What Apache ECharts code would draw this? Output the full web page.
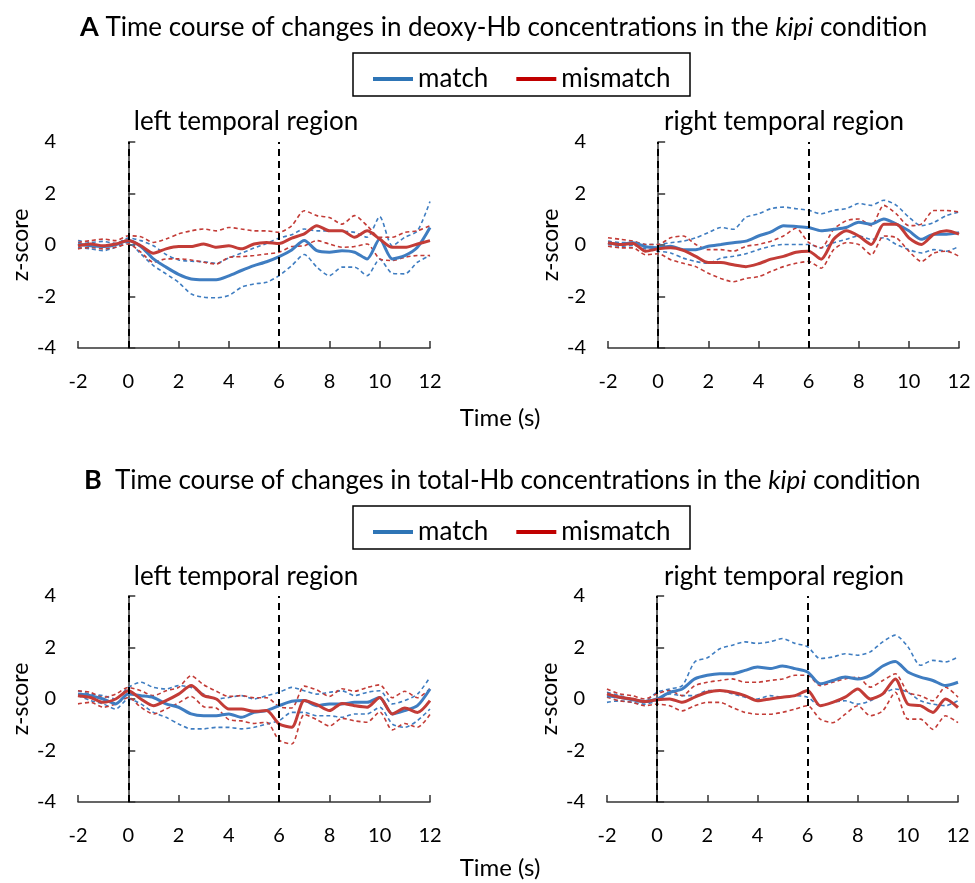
<!DOCTYPE html>
<html>
<head>
<meta charset="utf-8">
<script src="https://cdn.jsdelivr.net/npm/echarts@6/dist/echarts.min.js"></script>
<style>
html,body{margin:0;padding:0;background:#fff;}
#chart{width:975px;height:883px;}
</style>
</head>
<body>
<div id="chart"></div>
<script>
// ---------- data ----------
const times = [-2,-1.5,-1,-0.5,0,0.5,1,1.5,2,2.5,3,3.5,4,4.5,5,5.5,6,6.5,7,7.5,8,8.5,9,9.5,10,10.5,11,11.5,12];
const xTicks = [-2,0,2,4,6,8,10,12];
const yTicks = [-4,-2,0,2,4];
const stimulusMarks = [0, 6];

// A: deoxy-Hb, left temporal region
const aLeftMatch         = [0.04,-0.03,-0.06,0.01,0.17,-0.06,-0.54,-0.86,-1.14,-1.32,-1.35,-1.35,-1.2,-0.99,-0.8,-0.65,-0.45,-0.19,0.17,-0.22,-0.28,-0.22,-0.28,-0.54,0.23,-0.54,-0.41,-0.09,0.68];
const aLeftMatchUpper    = [0.17,0.10,0.14,0.06,0.27,0.17,-0.03,-0.37,-0.58,-0.63,-0.65,-0.71,-0.5,-0.32,-0.12,0.06,0.27,0.4,0.62,0.55,0.55,0.53,0.49,0.3,1.1,-0.03,0.3,0.55,1.69];
const aLeftMatchLower    = [-0.09,-0.15,-0.22,-0.09,0.1,-0.35,-0.8,-1.12,-1.45,-1.9,-2.03,-2.05,-1.96,-1.64,-1.51,-1.45,-1.19,-0.8,-0.37,-0.86,-1.19,-0.86,-0.86,-1.19,-0.55,-1.1,-1.12,-0.67,-0.41];
const aLeftMismatch      = [-0.03,0.04,-0.03,0.04,0.17,-0.03,-0.32,-0.15,-0.06,-0.06,0.04,-0.09,-0.03,-0.15,0.04,0.1,0.06,0.27,0.43,0.75,0.55,0.55,0.3,0.55,0.23,-0.09,-0.09,0.04,0.17];
const aLeftMismatchUpper = [0.1,0.17,0.23,0.17,0.36,0.32,0.1,0.23,0.43,0.55,0.62,0.55,0.68,0.62,0.55,0.55,0.49,0.75,1.33,1.14,1.07,0.81,1.14,0.75,0.3,0.3,0.49,0.55,0.75];
const aLeftMismatchLower = [-0.15,-0.09,-0.15,-0.09,0.04,-0.28,-0.67,-0.54,-0.54,-0.58,-0.67,-0.74,-0.48,-0.45,-0.41,-0.35,-0.28,-0.06,-0.03,0.17,0.04,-0.09,-0.06,0.04,-0.54,-0.6,-0.48,-0.41,-0.41];

// A: deoxy-Hb, right temporal region
const aRightMatch         = [0.09,0.02,0.09,-0.07,-0.11,-0.05,-0.18,-0.18,-0.05,0.02,0.09,0.15,0.35,0.51,0.75,0.72,0.68,0.55,0.61,0.68,0.88,0.81,1.01,0.81,0.55,0.22,0.42,0.42,0.48];
const aRightMatchUpper    = [0.15,0.09,0.11,0.02,0.02,0.09,0.15,0.28,0.48,0.68,0.61,1.08,1.21,1.41,1.47,1.41,1.35,1.21,1.35,1.41,1.61,1.54,1.74,1.54,1.08,0.75,0.88,1.14,1.28];
const aRightMatchLower    = [0.02,-0.05,-0.02,-0.15,-0.24,-0.31,-0.51,-0.64,-0.71,-0.51,-0.44,-0.34,-0.18,-0.05,0.02,0.02,0.02,-0.11,0.09,0.22,0.35,0.22,0.28,0.02,-0.18,-0.31,-0.18,-0.24,-0.05];
const aRightMismatch      = [0.09,0.02,0.06,-0.24,-0.15,-0.11,-0.21,-0.44,-0.68,-0.68,-0.77,-0.84,-0.73,-0.55,-0.44,-0.28,-0.24,-0.55,0.22,0.55,0.35,0.02,0.81,0.81,0.28,0.02,0.42,0.55,0.42];
const aRightMismatchUpper = [0.28,0.22,0.15,0.02,0.02,0.28,0.35,0.02,-0.18,-0.18,-0.24,-0.05,0.02,0.15,0.35,0.65,0.1,-0.11,0.61,0.94,1.01,0.75,1.54,1.21,0.75,0.81,1.34,1.34,1.28];
const aRightMismatchLower = [-0.05,-0.11,-0.11,-0.38,-0.34,-0.57,-0.71,-0.84,-1.1,-1.3,-1.43,-1.3,-1.23,-1.03,-0.84,-0.71,-0.64,-0.9,-0.18,0.09,0.02,-0.38,0.35,0.28,-0.24,-0.64,-0.31,-0.24,-0.44];

// B: total-Hb, left temporal region
const bLeftMatch         = [0.19,0.13,0,-0.19,0.19,0.13,0.06,-0.19,-0.32,-0.58,-0.65,-0.65,-0.58,-0.71,-0.52,-0.45,-0.26,-0.09,-0.06,-0.26,-0.19,-0.19,-0.13,-0.13,0.06,-0.58,-0.45,-0.26,0.39];
const bLeftMatchUpper    = [0.32,0.19,0.13,0,0.45,0.65,0.45,0.39,0.52,0.45,0.19,0,0.06,0.13,0,0.13,0.26,0.45,0.32,0.19,0.26,0.32,0.13,0.26,0.32,-0.19,-0.06,0.19,0.84];
const bLeftMatchLower    = [0.13,-0.06,-0.19,-0.39,0,-0.19,-0.52,-0.71,-0.97,-1.16,-1.16,-1.1,-1.1,-1.16,-1.1,-0.97,-0.84,-0.52,-0.52,-0.65,-0.65,-0.71,-0.58,-0.58,-0.32,-0.97,-1.1,-0.84,-0.39];
const bLeftMismatch      = [0.13,0.06,-0.13,0,0.32,0,-0.26,-0.06,0.19,0.52,0.13,0,-0.39,-0.39,-0.48,-0.45,-0.97,-1.1,-0.06,-0.22,-0.45,-0.17,-0.26,-0.32,0.06,-0.58,-0.35,-0.52,-0.06];
const bLeftMismatchUpper = [0.32,0.26,0.06,0.19,0.45,0.32,0.13,0.32,0.45,0.9,0.55,0.3,0.1,0.13,0.05,0.05,-0.3,-0.35,0.5,0.35,0.1,0.4,0.3,0.45,0.55,0.05,0.3,0.05,0.4];
const bLeftMismatchLower = [-0.19,-0.13,-0.32,-0.19,0.06,-0.32,-0.58,-0.39,-0.15,0.1,-0.3,-0.35,-0.8,-0.85,-0.95,-0.9,-1.6,-1.75,-0.6,-0.8,-1.05,-0.75,-0.85,-0.9,-0.5,-1.2,-0.95,-1.1,-0.6];

// B: total-Hb, right temporal region
const bRightMatch         = [0.13,0.07,-0.03,-0.1,0,0.26,0.39,0.78,0.92,0.98,0.98,1.11,1.24,1.18,1.28,1.18,1.05,0.59,0.72,0.85,0.78,0.92,1.28,1.46,1.05,0.85,0.72,0.52,0.65];
const bRightMatchUpper    = [0.26,0.13,0,-0.07,0.26,0.39,0.52,1.44,1.6,1.95,2.09,2.22,2.16,2.22,2.35,2.16,2.03,1.57,1.63,1.76,1.7,1.83,2.22,2.48,2.03,1.31,1.5,1.44,1.63];
const bRightMatchLower    = [-0.13,-0.07,-0.13,-0.2,-0.07,0.2,0.13,0.13,0.33,0.33,0.2,0.07,0,0.13,0.07,0.13,0.07,-0.26,-0.13,-0.07,-0.2,-0.07,0.2,0.39,0.26,-0.07,-0.2,-0.26,-0.07];
const bRightMismatch      = [0.2,0.07,0,-0.1,-0.03,0,-0.13,0.07,0.26,0.33,0.26,0.13,-0.07,0,0.07,0.13,0.33,-0.26,-0.13,0.07,0.39,0,0.2,0.78,-0.2,-0.26,-0.52,0,-0.33];
const bRightMismatchUpper = [0.39,0.2,0.13,0,0.2,0.33,0.13,0.52,0.65,0.72,0.78,0.65,0.65,0.72,0.78,0.92,0.92,0.52,0.65,0.78,0.85,0.46,0.72,0.98,0.26,0.13,-0.07,0.46,0.07];
const bRightMismatchLower = [0.07,-0.07,-0.13,-0.26,-0.2,-0.26,-0.46,-0.26,-0.13,-0.13,-0.33,-0.52,-0.59,-0.59,-0.52,-0.39,-0.26,-0.78,-0.92,-0.59,-0.26,-0.65,-0.46,0.26,-0.78,-0.78,-1.18,-0.65,-0.92];

// ---------- chart ----------
const FONT = 'Lato';
const BLUE = '#3F7DC1';
const RED = '#C33C37';
const LEG_BLUE = '#2E75B6';
const LEG_RED = '#C00000';

const panels = [
  {grid:{left:78, top:142, width:352, height:206}, m:aLeftMatch, mu:aLeftMatchUpper, ml:aLeftMatchLower, mm:aLeftMismatch, mmu:aLeftMismatchUpper, mml:aLeftMismatchLower},
  {grid:{left:608, top:142, width:351, height:206}, m:aRightMatch, mu:aRightMatchUpper, ml:aRightMatchLower, mm:aRightMismatch, mmu:aRightMismatchUpper, mml:aRightMismatchLower},
  {grid:{left:78, top:596, width:352, height:206}, m:bLeftMatch, mu:bLeftMatchUpper, ml:bLeftMatchLower, mm:bLeftMismatch, mmu:bLeftMismatchUpper, mml:bLeftMismatchLower},
  {grid:{left:607, top:596, width:351, height:206}, m:bRightMatch, mu:bRightMatchUpper, ml:bRightMatchLower, mm:bRightMismatch, mmu:bRightMismatchUpper, mml:bRightMismatchLower}
];

const zip = arr => times.map((t, i) => [t, arr[i]]);

const grids = [], xAxes = [], yAxes = [], series = [];
panels.forEach((p, k) => {
  grids.push(p.grid);
  xAxes.push({
    type:'value', gridIndex:k, min:xTicks[0], max:xTicks[xTicks.length-1], interval:xTicks[1]-xTicks[0],
    axisLine:{onZero:false, lineStyle:{color:'#333', width:1.5}},
    axisTick:{inside:true, length:7, lineStyle:{color:'#333', width:1.5}},
    axisLabel:{color:'#000', fontSize:20, fontFamily:FONT, margin:24},
    splitLine:{show:false}
  });
  yAxes.push({
    type:'value', gridIndex:k, min:yTicks[0], max:yTicks[yTicks.length-1], interval:yTicks[1]-yTicks[0],
    name:'z-score', nameLocation:'middle', nameGap:46,
    nameTextStyle:{color:'#000', fontSize:23, fontFamily:FONT},
    axisLine:{show:true, lineStyle:{color:'#333', width:1.5}},
    axisTick:{show:true, inside:true, length:7, lineStyle:{color:'#333', width:1.5}},
    axisLabel:{color:'#000', fontSize:20, fontFamily:FONT, margin:22},
    splitLine:{show:false}
  });
  const dashed = (name, data, color) => ({
    name, type:'line', xAxisIndex:k, yAxisIndex:k, data:zip(data), symbol:'none', smooth:0.25,
    lineStyle:{color, width:1.6, type:[4,3]}, silent:true, z:2
  });
  series.push(dashed('match bound', p.mu, BLUE));
  series.push(dashed('match bound', p.ml, BLUE));
  series.push(dashed('mismatch bound', p.mmu, RED));
  series.push(dashed('mismatch bound', p.mml, RED));
  series.push({
    name:'match', type:'line', xAxisIndex:k, yAxisIndex:k, data:zip(p.m), symbol:'none', smooth:0.25,
    itemStyle:{color:LEG_BLUE}, lineStyle:{color:BLUE, width:3}, z:3,
    markLine:{silent:true, symbol:['none','none'], label:{show:false},
      lineStyle:{color:'#000', type:[7,5], width:2},
      data: stimulusMarks.map(v => ({xAxis:v}))}
  });
  series.push({
    name:'mismatch', type:'line', xAxisIndex:k, yAxisIndex:k, data:zip(p.mm), symbol:'none', smooth:0.25,
    itemStyle:{color:LEG_RED}, lineStyle:{color:RED, width:3}, z:4
  });
});

const legendBase = {
  data:[{name:'match', icon:'rect', itemStyle:{color:LEG_BLUE}}, {name:'mismatch', icon:'rect', itemStyle:{color:LEG_RED}}],
  left:368, itemWidth:40, itemHeight:4, itemGap:28,
  textStyle:{color:'#000', fontSize:26, fontFamily:FONT, padding:[0,0,0,0]},
  selectedMode:false
};

const txt = (x, y, text, size, align) => ({
  type:'text', x, y, silent:true,
  style:{text, fontSize:size, fontFamily:FONT, fill:'#000', align:align||'center', verticalAlign:'middle'}
});

const titleStyle = {fontSize:26, fontWeight:'normal', color:'#000', fontFamily:FONT,
  rich:{b:{fontSize:27, fontWeight:'bold', fontFamily:FONT, color:'#000'}, i:{fontSize:26, fontStyle:'italic', fontFamily:FONT, color:'#000'}}};

const option = {
  backgroundColor:'#fff',
  animation:false,
  title:[
    {text:'{b|A} Time course of changes in deoxy-Hb concentrations in the {i|kipi} condition', left:75, top:9, textStyle:titleStyle},
    {text:'{b|B}  Time course of changes in total-Hb concentrations in the {i|kipi} condition', left:79, top:462, textStyle:titleStyle}
  ],
  legend:[
    Object.assign({}, legendBase, {top:61}),
    Object.assign({}, legendBase, {top:514})
  ],
  grid:grids, xAxis:xAxes, yAxis:yAxes, series,
  graphic:[
    {type:'rect', shape:{x:353, y:53, width:337, height:43}, style:{fill:'none', stroke:'#000', lineWidth:1.5}, silent:true},
    {type:'rect', shape:{x:353, y:506, width:337, height:43}, style:{fill:'none', stroke:'#000', lineWidth:1.5}, silent:true},
    txt(246, 122, 'left temporal region', 26),
    txt(784, 122, 'right temporal region', 26),
    txt(246, 577, 'left temporal region', 26),
    txt(784, 577, 'right temporal region', 26),
    txt(500, 418, 'Time (s)', 24),
    txt(500, 868, 'Time (s)', 24)
  ]
};

const chart = echarts.init(document.getElementById('chart'), null, {renderer:'canvas'});
chart.setOption(option);
</script>
</body>
</html>
